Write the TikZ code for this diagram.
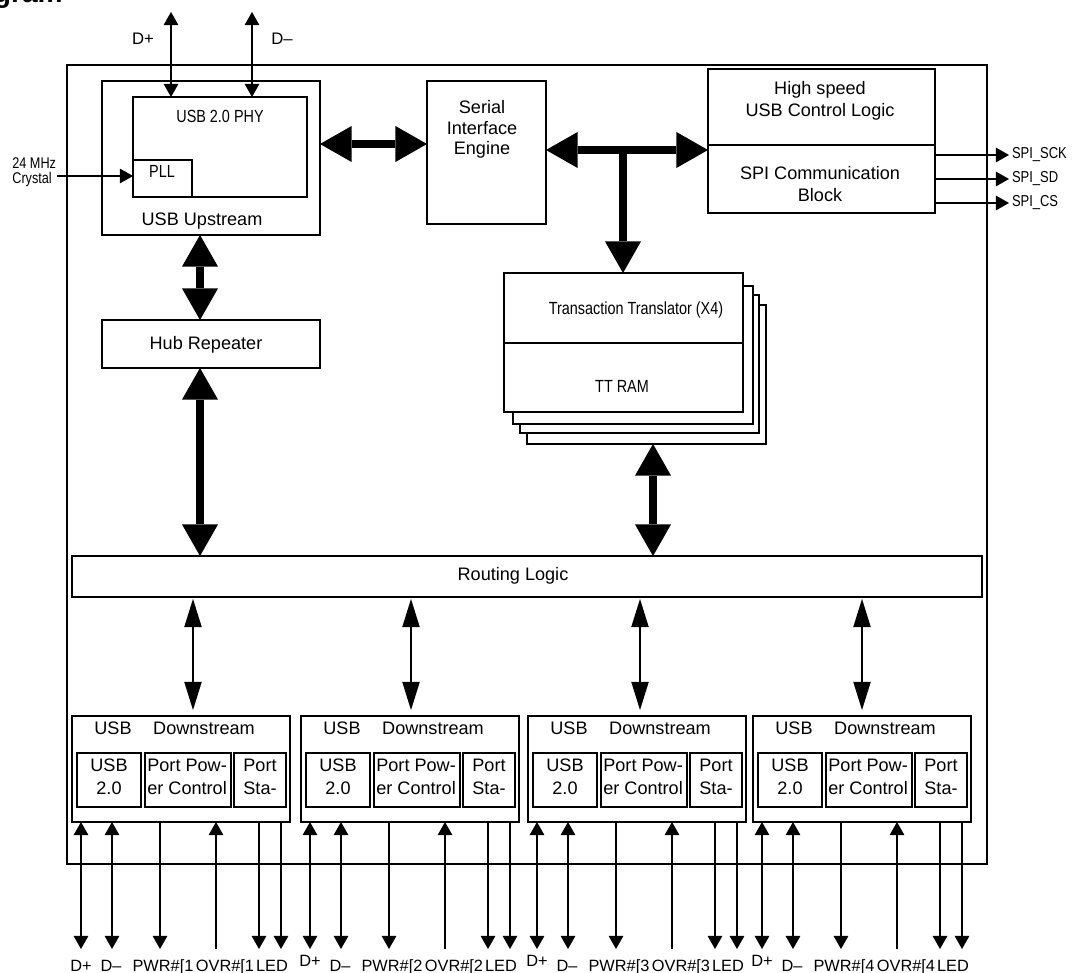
\documentclass[tikz,border=0pt]{standalone}
\usepackage{fontspec}
\setmainfont{Liberation Sans}
\newfontfamily\narrowfont[FakeStretch=0.82]{Liberation Sans}
\usetikzlibrary{arrows.meta}
\newcommand\myblk[6][]{%
  \node[box,#1,minimum width={((#5)-(#3))*0.2mm},minimum height={((#6)-(#4))*0.2mm}] (#2) at ({((#3)+(#5))/2},{((#4)+(#6))/2}) {};}
\tikzset{
  bigtip/.tip={Triangle[width=20.5pt,length=18pt,line width=0pt]},
  midtip/.tip={Triangle[width=10pt,length=16pt,line width=0pt]},
  smalltip/.tip={Triangle[width=8.5pt,length=7.5pt,line width=0pt]},
  box/.style={draw,line width=0.6pt,inner sep=0pt,outer sep=0pt,fill=white},
  bigarr/.style={line width=4.8pt,bigtip-bigtip},
  bigone/.style={line width=4.8pt,-bigtip},
  midarr/.style={line width=0.8pt,midtip-midtip},
  sarr/.style={line width=0.6pt,-smalltip},
  sarrtwo/.style={line width=0.6pt,smalltip-smalltip},
  sarrup/.style={line width=0.6pt,smalltip-},
  txt/.style={inner sep=0pt,font=\fontsize{10.3}{12.5}\selectfont,align=center},
  ntxt/.style={inner sep=0pt,font=\narrowfont\fontsize{10}{12}\selectfont},
  ptxt/.style={inner sep=0pt,font=\fontsize{9.3}{11}\selectfont,anchor=base},
}
\begin{document}
\begin{tikzpicture}[x=0.2mm,y=-0.2mm]
\useasboundingbox (0,0) rectangle (1074,973);
% title fragment (cut off at the top edge, as in the reference)
\node[inner sep=0pt,anchor=base east,font=\bfseries\fontsize{16}{16}\selectfont] (title) at (63,2.5) {gram};
% chip outline
\myblk[line width=1.3pt,fill=none]{chip}{67}{65}{987}{864}
% upstream
\myblk{up}{102}{81}{320}{235}
\myblk{phy}{133}{97}{307}{197}
\myblk{pll}{133}{160}{192}{197}
\node[ntxt,anchor=base] (tphy) at (220,123) {USB 2.0 PHY};
\node[ntxt,anchor=base] (tpll) at (162,178) {PLL};
\node[txt,anchor=base] (tup) at (202,226) {USB Upstream};
% SIE
\myblk{sie}{427}{81}{546}{224}
\node[txt,font=\fontsize{10.3}{11.6}\selectfont] (tsie) at (482,129.5) {Serial\\Interface\\Engine};
% high speed control
\myblk{hsc}{708}{69}{935}{145}
\myblk{spi}{708}{145}{935}{213}
\node[txt] (thsc) at (820,101) {High speed\\USB Control Logic};
\node[txt] (tspi) at (820,184) {SPI Communication\\Block};
% transaction translators
\myblk{tt4}{527}{305}{766}{444}
\myblk{tt3}{520}{295}{759}{433}
\myblk{tt2}{513}{286}{753}{424}
\myblk{tt}{504}{273}{743}{343}
\myblk{ttram}{504}{343}{743}{412}
\draw[line width=1.1pt] (tt.south west) -- (tt.south east);
\node[ntxt,anchor=base] (ttt) at (636,315) {Transaction Translator (X4)};
\node[ntxt,anchor=base] (tram) at (622,392) {TT RAM};
% hub repeater, routing logic
\myblk{hub}{102}{320}{320}{368}
\node[txt,anchor=base] (thub) at (206,349) {Hub Repeater};
\myblk{rl}{72}{556}{982}{597}
\node[txt,anchor=base] (trl) at (513,580) {Routing Logic};
% crystal
\node[inner sep=0pt,align=left,anchor=west,font=\narrowfont\fontsize{8.8}{8.5}\selectfont] (xtal) at (12,172) {24 MHz\\Crystal};
\coordinate (xs) at (57,176);
\draw[sarr] (xs) -- (pll.west |- xs);
% upstream D+ D-
\coordinate (dp) at (171,12);
\coordinate (dm) at (252,12);
\draw[sarrtwo] (dp) -- (phy.north -| dp);
\draw[sarrtwo] (dm) -- (phy.north -| dm);
\node[ptxt,font=\fontsize{9.5}{11}\selectfont] (ldp) at (143,45) {D+};
\node[ptxt,font=\fontsize{9.5}{11}\selectfont] (ldm) at (282,45) {D–};
% thick buses
\coordinate (ya) at (0,144);
\draw[bigarr] (up.east |- ya) -- (sie.west |- ya);
\coordinate (tj) at (623,150);
\draw[bigarr] (sie.east |- tj) -- (spi.west |- tj);
\draw[bigone] (tj) -- (tt.north -| tj);
\coordinate (xh) at (200,0);
\draw[bigarr] (up.south -| xh) -- (hub.north -| xh);
\draw[bigarr] (hub.south -| xh) -- (rl.north -| xh);
\coordinate (xt) at (653,0);
\draw[bigarr] (tt4.south -| xt) -- (rl.north -| xt);
% SPI outputs
\foreach \n/\lab/\y in {sck/SPI\_SCK/155,sd/SPI\_SD/179,cs/SPI\_CS/203}{
  \coordinate (c\n) at (1009,\y);
  \node[ntxt,font=\narrowfont\fontsize{9}{10}\selectfont,anchor=west,inner xsep=1.5pt] (\n) at (c\n) {\lab};
  \draw[sarr] (spi.east |- c\n) -- (\n.west);
}
% downstream ports
\foreach \i/\L/\Y in {1/72/971,2/301/966,3/528/966,4/753/966}{
  \myblk{ds\i}{\L}{716}{\L+218}{822}
  \myblk{us\i}{\L+5}{753}{\L+69}{807}
  \myblk{pp\i}{\L+73}{753}{\L+159}{807}
  \myblk{ps\i}{\L+162}{753}{\L+214}{807}
  \node[txt,anchor=base] (tu\i) at (\L+41,734) {USB};
  \node[txt,anchor=base] (td\i) at (\L+132,734) {Downstream};
  \node[txt,font=\fontsize{10.3}{13}\selectfont] (tus\i) at (\L+37,776.5) {USB\\2.0};
  \node[txt,align=left,anchor=west,font=\fontsize{10.3}{13}\selectfont] (tpp\i) at (\L+75,776.5) {Port Pow-\\er Control};
  \node[txt,font=\fontsize{10.3}{13}\selectfont] (tps\i) at (\L+188,776.5) {Port\\Sta-};
  \foreach \o [count=\k] in {9,40,88,144,187,209}{
    \coordinate (p\i x\k) at (\L+\o,949);
  }
  \draw[sarrtwo] (ds\i.south -| p\i x1) -- (p\i x1);
  \draw[sarrtwo] (ds\i.south -| p\i x2) -- (p\i x2);
  \draw[sarr] (ds\i.south -| p\i x3) -- (p\i x3);
  \draw[sarrup] (ds\i.south -| p\i x4) -- (p\i x4);
  \draw[sarr] (ds\i.south -| p\i x5) -- (p\i x5);
  \draw[sarr] (ds\i.south -| p\i x6) -- (p\i x6);
  \node[ptxt] (ldp\i) at (\L+9,\Y) {D+};
  \node[ptxt] (ldm\i) at (\L+39,971) {D–};
  \node[ptxt] (lpw\i) at (\L+91,971) {PWR\#[\i};
  \node[ptxt] (lov\i) at (\L+153,971) {OVR\#[\i};
  \node[ptxt] (lled\i) at (\L+200,971) {LED};
}
% routing logic to downstream
\foreach \i/\x in {1/193,2/411,3/640,4/862}{
  \coordinate (ra\i) at (\x,0);
  \draw[midarr,shorten <=1.1pt,shorten >=3.4pt] (rl.south -| ra\i) -- (ds\i.north -| ra\i);
}
\end{tikzpicture}
\end{document}
